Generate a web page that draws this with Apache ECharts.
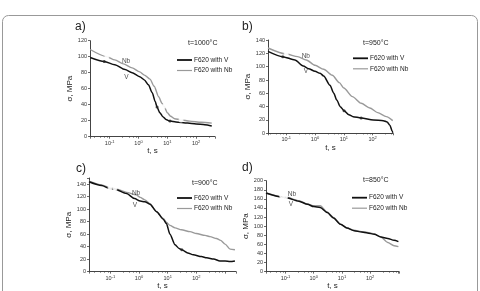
<!DOCTYPE html>
<html><head><meta charset="utf-8">
<script src="https://cdn.jsdelivr.net/npm/echarts@6/dist/echarts.min.js"></script>
<style>html,body{margin:0;padding:0;background:#fff}#c{width:480px;height:291px}</style>
</head><body><div id="c"></div>
<script>
// ---- data (t in s, stress in MPa) ----
const panelTitles = ['a)', 'b)', 'c)', 'd)'];
const temperatures = ['t=1000°C', 't=950°C', 't=900°C', 't=850°C'];
const seriesNames = ['F620 with V', 'F620 with Nb'];
const xLabelExponents = [-1, 0, 1, 2];
const yMaxes = [120, 140, 150, 200];
const yStep = 20;
const xMins = [0.0207, 0.0233, 0.0181, 0.0204];
const xMaxes = [453, 511, 2400, 1050];

const vA = [[0.021,99],[0.065,94],[0.15,90],[0.34,84],[0.6,80],[1.1,75],[1.6,71],[2.2,65],[3,55],[3.8,44],[4.4,37],[5.5,30],[7,25],[9,21.5],[12.4,19.5],[20,18.5],[50,17],[100,16],[200,15],[350,13.5]];
const nbA = [[0.021,109],[0.08,100],[0.15,96],[0.3,91],[0.6,86],[1.1,81],[1.6,77],[2.5,72],[3.5,63],[5,50],[6.5,42],[7.7,38],[10,30],[13,25.5],[18,22.5],[30,21],[60,19.5],[150,18],[350,17]];
const vB = [[0.0233,123],[0.076,115],[0.2,110],[0.39,101],[0.6,97],[1,93],[1.5,90],[2,86],[3.3,72],[4.5,60],[5.7,50],[7.5,40],[10.2,34],[15,28],[21,25],[40,23],[106,20],[235,19],[320,17],[400,12],[480,3],[505,1]];
const nbB = [[0.0233,128],[0.1,119],[0.25,115],[0.5,110],[1,102],[2,96],[4,87],[7,76],[10,68],[20,55],[40,45],[80,38],[150,31],[300,25],[500,19]];
const vC = [[0.0181,144],[0.05,138],[0.098,133],[0.145,132],[0.37,125],[0.7,117],[1.1,113],[1.6,112],[2.4,108],[4.1,96],[7,84],[9,77],[12,60],[18,43],[25,37],[31,35],[50,30],[78,27],[150,24],[230,22],[400,20],[660,17],[1000,17],[1500,16],[2200,17]];
const nbC = [[0.0181,145],[0.05,139],[0.098,134],[0.145,133],[0.37,127],[0.8,123],[1.1,119],[1.6,115],[2.4,109],[4.1,96],[7,85],[9,79],[12,74],[18,70],[30,67],[60,64],[100,61],[200,58],[300,56],[500,53],[700,50],[1000,44],[1500,36],[2200,35]];
const vD = [[0.0204,173],[0.074,164],[0.1,163],[0.3,155],[0.6,148],[1,143],[1.7,141],[3,130],[5,118],[9,104],[15,96],[27,90],[50,87],[81,85],[140,82],[240,76],[420,73],[700,69],[1000,66]];
const nbD = [[0.0204,173],[0.074,165],[0.1,164],[0.3,156],[0.6,149],[1,145],[1.7,145],[3,131],[5,119],[9,104],[15,96],[27,91],[50,88],[81,86],[140,83],[240,76],[420,64],[700,57],[1000,55]];

const markVA = [[0.065,94],[4.4,37],[12.4,19.5]];
const markNbA = [[0.08,100],[7.7,38],[30,21]];
const markVB = [[0.076,115],[10.2,34],[40,23]];
const markNbB = [[0.1,119]];
const markVC = [[31,35]];
const markNbC = [[0.098,134],[0.145,133]];
const markVD = [];
const markNbD = [[0.074,165],[0.1,164]];

const curveLabelsA = [[0.37,94,'Nb'],[0.38,74.6,'V']];
const curveLabelsB = [[0.48,116,'Nb'],[0.48,92.5,'V']];
const curveLabelsC = [[0.79,125.5,'Nb'],[0.72,107,'V']];
const curveLabelsD = [[0.17,171,'Nb'],[0.155,147.5,'V']];

// ---- layout ----
const grids = [
  {left:90, top:40.7, width:125, height:96},
  {left:268, top:40, width:125, height:93.3},
  {left:89, top:178, width:147, height:96},
  {left:266, top:180.7, width:133, height:92.6}
];
const yNameGaps = [15, 13, 15, 13];
const titlePos = [[75,27],[242,27],[76,169],[242,168]];
const tempPos = [[188,43],[363,43],[192,183],[363,180]];
const legendPos = [[177,60],[353,58.3],[177,198],[352,197.7]];

const vData = [vA, vB, vC, vD];
const nbData = [nbA, nbB, nbC, nbD];
const markV = [markVA, markVB, markVC, markVD];
const markNb = [markNbA, markNbB, markNbC, markNbD];
const curveLabels = [curveLabelsA, curveLabelsB, curveLabelsC, curveLabelsD];

const V_COLOR = '#111';
const NB_COLOR = '#9a9a9a';
const AX = '#444';
const FONT = 'Arial, "Liberation Sans", sans-serif';

const xAxes = [], yAxes = [], series = [];
grids.forEach((g, i) => {
  xAxes.push({
    type: 'log', logBase: 10, gridIndex: i, min: xMins[i], max: xMaxes[i],
    axisLine: {show: true, lineStyle: {color: AX, width: 1}},
    axisTick: {show: true, length: 2, lineStyle: {color: AX, width: 0.8}},
    minorTick: {show: true, length: 1.2, splitNumber: 5, lineStyle: {color: AX, width: 0.6}},
    splitLine: {show: false}, minorSplitLine: {show: false},
    axisLabel: {
      margin: 3, color: '#333', fontFamily: FONT, fontSize: 5.5,
      formatter: function (v) {
        const e = Math.log10(v);
        const r = Math.round(e);
        if (Math.abs(e - r) > 1e-6 || xLabelExponents.indexOf(r) < 0) return '';
        return '{b|10}{s|' + r + '}';
      },
      rich: {
        b: {fontSize: 5.5, fontFamily: FONT, color: '#333'},
        s: {fontSize: 4, fontFamily: FONT, color: '#333', verticalAlign: 'top', padding: [0, 0, 3, 0]}
      }
    },
    name: 't, s', nameLocation: 'middle', nameGap: 9,
    nameTextStyle: {fontSize: 8, color: '#222', fontFamily: FONT}
  });
  yAxes.push({
    type: 'value', gridIndex: i, min: 0, max: yMaxes[i], interval: yStep,
    axisLine: {show: true, onZero: false, lineStyle: {color: AX, width: 1}},
    axisTick: {show: true, length: 2, lineStyle: {color: AX, width: 0.8}},
    splitLine: {show: false},
    axisLabel: {margin: 3, color: '#333', fontFamily: FONT, fontSize: 5.5,
      formatter: v => (v % yStep === 0 ? String(v) : '')},
    name: 'σ, MPa', nameLocation: 'middle', nameRotate: 90, nameGap: yNameGaps[i],
    nameTextStyle: {fontSize: 8, color: '#222', fontFamily: FONT}
  });
  series.push({
    type: 'line', name: seriesNames[1], xAxisIndex: i, yAxisIndex: i, data: nbData[i],
    showSymbol: false, smooth: 0.25, smoothMonotone: 'x', lineStyle: {color: NB_COLOR, width: 1.4}, z: 2
  });
  series.push({
    type: 'line', name: seriesNames[0], xAxisIndex: i, yAxisIndex: i, data: vData[i],
    showSymbol: false, smooth: 0.25, smoothMonotone: 'x', lineStyle: {color: V_COLOR, width: 1.5}, z: 3
  });
  series.push({
    type: 'scatter', xAxisIndex: i, yAxisIndex: i, data: markNb[i], symbol: 'emptyCircle', symbolSize: 3,
    itemStyle: {color: '#fff', borderColor: '#777', borderWidth: 0.8}, z: 4
  });
  series.push({
    type: 'scatter', xAxisIndex: i, yAxisIndex: i, data: markV[i], symbol: 'circle', symbolSize: 3,
    itemStyle: {color: '#222'}, z: 4
  });
  series.push({
    type: 'scatter', xAxisIndex: i, yAxisIndex: i, data: curveLabels[i], symbolSize: 0,
    label: {show: true, position: 'inside', formatter: p => p.data[2], fontSize: 6.5, color: '#222', fontFamily: FONT},
    z: 5
  });
});

const graphic = [
  {type: 'rect', shape: {x: 2.5, y: 15.5, width: 475, height: 300, r: 6},
   style: {fill: 'none', stroke: '#999', lineWidth: 1}, silent: true}
];
panelTitles.forEach((t, i) => {
  graphic.push({type: 'text', x: titlePos[i][0], y: titlePos[i][1],
    style: {text: t, fontSize: 12, fontFamily: FONT, fill: '#222', verticalAlign: 'middle', align: 'left'}});
  graphic.push({type: 'text', x: tempPos[i][0], y: tempPos[i][1],
    style: {text: temperatures[i], fontSize: 7, fontFamily: FONT, fill: '#222', verticalAlign: 'middle', align: 'left'}});
  const [lx, ly] = legendPos[i];
  const rowH = 10.5;
  [[V_COLOR, 1.8, seriesNames[0]], [NB_COLOR, 1.2, seriesNames[1]]].forEach((it, k) => {
    graphic.push({type: 'line', shape: {x1: lx, y1: ly + k * rowH, x2: lx + 15, y2: ly + k * rowH},
      style: {stroke: it[0], lineWidth: it[1]}});
    graphic.push({type: 'text', x: lx + 17, y: ly + k * rowH,
      style: {text: it[2], fontSize: 6.5, fontFamily: FONT, fill: '#222', verticalAlign: 'middle', align: 'left'}});
  });
});

const chart = echarts.init(document.getElementById('c'), null, {renderer: 'canvas'});
chart.setOption({
  backgroundColor: '#fff',
  animation: false,
  grid: grids.map(g => Object.assign({containLabel: false}, g)),
  xAxis: xAxes, yAxis: yAxes, series: series, graphic: graphic
});
</script>
</body></html>
